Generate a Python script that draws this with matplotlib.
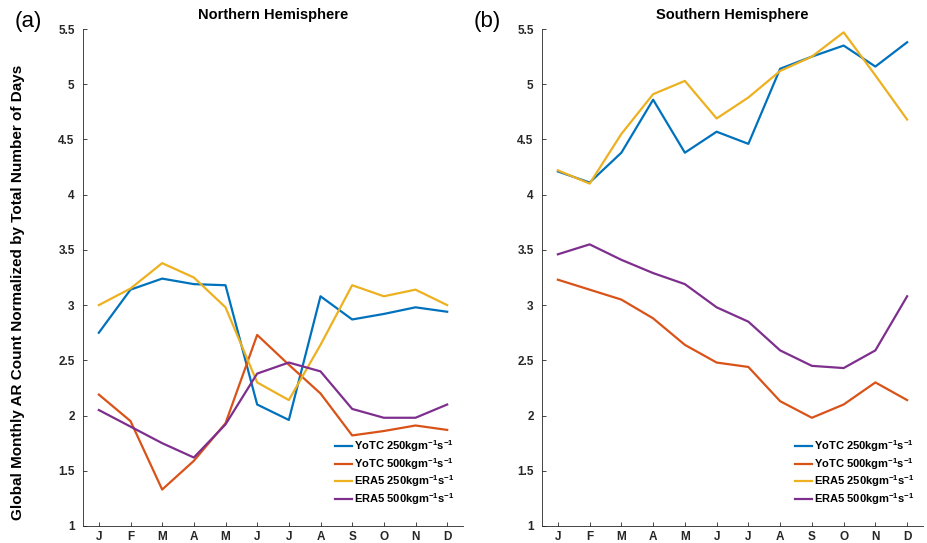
import matplotlib
matplotlib.use("Agg")
import matplotlib.pyplot as plt
import numpy as np

plt.rcParams['font.family'] = ['Liberation Sans', 'DejaVu Sans']
plt.rcParams['font.weight'] = 'bold'
plt.rcParams['mathtext.fontset'] = 'custom'
plt.rcParams['mathtext.rm'] = 'Liberation Sans:bold'
plt.rcParams['mathtext.default'] = 'rm'

months = ['J', 'F', 'M', 'A', 'M', 'J', 'J', 'A', 'S', 'O', 'N', 'D']

# Northern Hemisphere
nh_yotc_250 = [2.75, 3.14, 3.24, 3.19, 3.18, 2.10, 1.96, 3.08, 2.87, 2.92, 2.98, 2.94]
nh_yotc_500 = [2.19, 1.95, 1.33, 1.59, 1.93, 2.73, 2.46, 2.20, 1.82, 1.86, 1.91, 1.87]
nh_era5_250 = [3.00, 3.15, 3.38, 3.25, 2.98, 2.30, 2.14, 2.64, 3.18, 3.08, 3.14, 3.00]
nh_era5_500 = [2.05, 1.90, 1.75, 1.62, 1.92, 2.38, 2.48, 2.40, 2.06, 1.98, 1.98, 2.10]

# Southern Hemisphere
sh_yotc_250 = [4.21, 4.11, 4.38, 4.86, 4.38, 4.57, 4.46, 5.14, 5.25, 5.35, 5.16, 5.38]
sh_yotc_500 = [3.23, 3.14, 3.05, 2.88, 2.64, 2.48, 2.44, 2.13, 1.98, 2.10, 2.30, 2.14]
sh_era5_250 = [4.22, 4.10, 4.55, 4.91, 5.03, 4.69, 4.88, 5.12, 5.25, 5.47, 5.08, 4.68]
sh_era5_500 = [3.46, 3.55, 3.41, 3.29, 3.19, 2.98, 2.85, 2.59, 2.45, 2.43, 2.59, 3.08]

labels = ['YoTC 250kgm$^{-1}$s$^{-1}$', 'YoTC 500kgm$^{-1}$s$^{-1}$',
          'ERA5 250kgm$^{-1}$s$^{-1}$', 'ERA5 500kgm$^{-1}$s$^{-1}$']
colors = ['#0072BD', '#D95319', '#EDB120', '#7E2F8E']

W, H = 927, 543
fig = plt.figure(figsize=(W / 100, H / 100), dpi=100)

panels = [
    ("Northern Hemisphere", "(a)", [nh_yotc_250, nh_yotc_500, nh_era5_250, nh_era5_500], 83, 463),
    ("Southern Hemisphere", "(b)", [sh_yotc_250, sh_yotc_500, sh_era5_250, sh_era5_500], 542, 923),
]
top, bottom = 29, 526
x = np.arange(1, 13)

for title, tag, series, left, right in panels:
    ax = fig.add_axes([left / W, 1 - bottom / H, (right - left) / W, (bottom - top) / H])
    for vals, c, lab in zip(series, colors, labels):
        ax.plot(x, vals, color=c, lw=1.6, label=lab)
    ax.set_xlim(0.5, 12.5)
    ax.set_ylim(1, 5.5)
    ax.set_xticks(x)
    ax.set_xticklabels(months)
    ax.set_yticks([1, 1.5, 2, 2.5, 3, 3.5, 4, 4.5, 5, 5.5])
    ax.set_yticklabels(['1', '1.5', '2', '2.5', '3', '3.5', '4', '4.5', '5', '5.5'])
    ax.spines['top'].set_visible(False)
    ax.spines['right'].set_visible(False)
    for s in ('left', 'bottom'):
        ax.spines[s].set_color('#262626')
        ax.spines[s].set_linewidth(0.6)
    ax.tick_params(direction='in', length=3, width=0.6, colors='#262626',
                   labelsize=8.5)
    ax.tick_params(axis='y', pad=6)
    ax.tick_params(axis='x', pad=3.5)
    fig.text((left + right) / 2 / W, 1 - 15 / H, title, fontsize=10.5,
             fontweight='bold', ha='center', va='center')
    fig.text((left - 68) / W, 1 - 22 / H, tag, fontsize=16, fontweight='normal',
             ha='left', va='center')
    ax.legend(loc='lower right', bbox_to_anchor=(0.99, 0.03), frameon=False,
              fontsize=8, handlelength=1.5, handletextpad=0.2,
              labelspacing=0.15, borderaxespad=0)

fig.text(18 / W, 1 - 292 / H, 'Global Monthly AR Count Normalized by Total Number of Days',
         rotation=90, fontsize=11, fontweight='bold', ha='center', va='center')

fig.savefig('out.png', dpi=100)
